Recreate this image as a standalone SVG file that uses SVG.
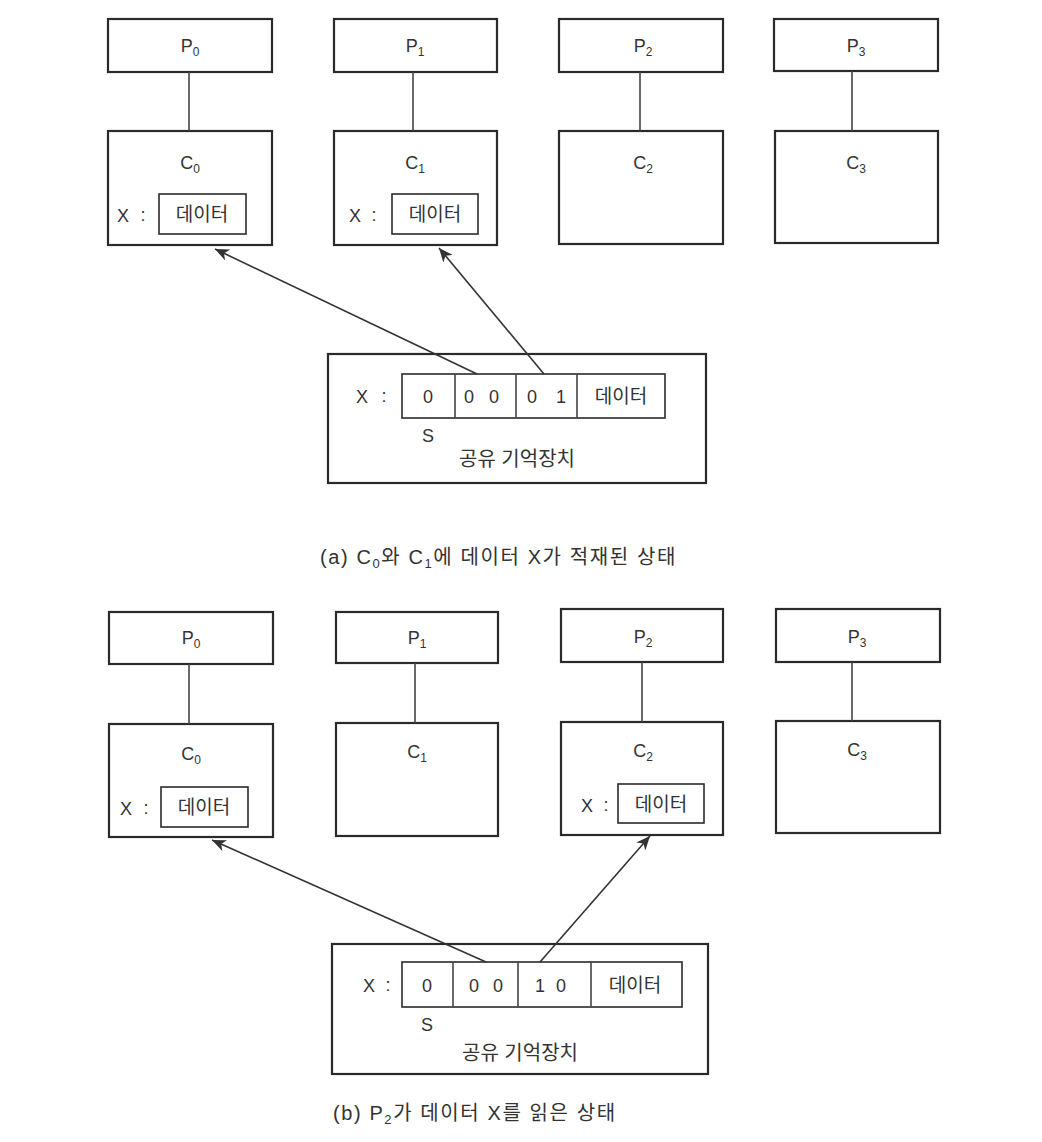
<svg xmlns="http://www.w3.org/2000/svg" width="1042" height="1142" viewBox="0 0 1042 1142">
<style>
.box{fill:#fff;stroke:#2a2a2a;stroke-width:2.2}
.ibox{fill:#fff;stroke:#2a2a2a;stroke-width:1.6}
.ln{stroke:#444;stroke-width:1.6;fill:none}
.arr{stroke:#333;stroke-width:1.6;fill:none;marker-end:url(#ah)}
text{font-family:"Liberation Sans","Noto Sans CJK KR",sans-serif;font-size:18px;fill:#333}
.m{text-anchor:middle}
.k{font-size:19px}
.sub{font-size:12px}
.cap{font-size:20px;letter-spacing:1.6px}
.cap .sub{font-size:13px}
</style>
<defs>
<marker id="ah" markerUnits="userSpaceOnUse" markerWidth="16" markerHeight="12" refX="14" refY="6" orient="auto">
<path d="M0,0 L14,6 L0,12 L4,6 Z" fill="#333"/>
</marker>
</defs>
<rect width="1042" height="1142" fill="#fff"/>

<!-- (a) -->
<g id="a-P0"><rect class="box" x="108" y="19" width="164" height="53"/><text class="m" x="190" y="52">P<tspan class="sub" dy="4">0</tspan></text></g>
<g id="a-P1"><rect class="box" x="334" y="19" width="163" height="53"/><text class="m" x="415" y="52">P<tspan class="sub" dy="4">1</tspan></text></g>
<g id="a-P2"><rect class="box" x="559" y="19" width="164" height="53"/><text class="m" x="643" y="52">P<tspan class="sub" dy="4">2</tspan></text></g>
<g id="a-P3"><rect class="box" x="774" y="19" width="164" height="52"/><text class="m" x="856" y="52">P<tspan class="sub" dy="4">3</tspan></text></g>

<g id="a-C0"><rect class="box" x="108" y="131" width="164" height="114"/><text class="m" x="190" y="169">C<tspan class="sub" dy="4">0</tspan></text>
<text class="m" x="123" y="222">X</text><text class="m" x="143" y="221">:</text>
<rect class="ibox" x="159" y="194" width="87" height="40"/><text class="m k" x="202" y="221">데이터</text></g>
<g id="a-C1"><rect class="box" x="334" y="131" width="163" height="114"/><text class="m" x="415" y="169">C<tspan class="sub" dy="4">1</tspan></text>
<text class="m" x="355" y="222">X</text><text class="m" x="374" y="221">:</text>
<rect class="ibox" x="392" y="194" width="86" height="40"/><text class="m k" x="435" y="221">데이터</text></g>
<g id="a-C2"><rect class="box" x="559" y="131" width="164" height="113"/><text class="m" x="643" y="169">C<tspan class="sub" dy="4">2</tspan></text></g>
<g id="a-C3"><rect class="box" x="775" y="131" width="163" height="112"/><text class="m" x="856" y="169">C<tspan class="sub" dy="4">3</tspan></text></g>

<g id="a-mem"><rect class="box" x="328" y="354" width="378" height="129"/>
<text class="m" x="362" y="403">X</text><text class="m" x="384" y="402">:</text>
<rect class="ibox" x="402" y="374" width="263" height="44"/>
<line class="ln" x1="455" y1="374" x2="455" y2="418"/>
<line class="ln" x1="516" y1="374" x2="516" y2="418"/>
<line class="ln" x1="577" y1="374" x2="577" y2="418"/>
<text class="m" x="428" y="403">0</text>
<text class="m" x="469" y="403">0</text><text class="m" x="494" y="403">0</text>
<text class="m" x="532" y="403">0</text><text class="m" x="561" y="403">1</text>
<text class="m k" x="621" y="403">데이터</text>
<text class="m" x="428" y="442">S</text>
<text class="m" x="517" y="466" style="font-size:20px">공유 기억장치</text></g>

<g id="a-caption"><text class="cap" x="320" y="564">(a) C<tspan class="sub" dy="4">0</tspan><tspan dy="-4">와 C</tspan><tspan class="sub" dy="4">1</tspan><tspan dy="-4">에 데이터 X가 적재된 상태</tspan></text></g>

<!-- (b) -->
<g id="b-P0"><rect class="box" x="109" y="612" width="164" height="52"/><text class="m" x="191" y="644">P<tspan class="sub" dy="4">0</tspan></text></g>
<g id="b-P1"><rect class="box" x="336" y="612" width="162" height="51"/><text class="m" x="417" y="644">P<tspan class="sub" dy="4">1</tspan></text></g>
<g id="b-P2"><rect class="box" x="561" y="609" width="162" height="53"/><text class="m" x="643" y="643">P<tspan class="sub" dy="4">2</tspan></text></g>
<g id="b-P3"><rect class="box" x="776" y="609" width="164" height="53"/><text class="m" x="857" y="643">P<tspan class="sub" dy="4">3</tspan></text></g>

<g id="b-C0"><rect class="box" x="109" y="724" width="164" height="113"/><text class="m" x="191" y="760">C<tspan class="sub" dy="4">0</tspan></text>
<text class="m" x="126" y="815">X</text><text class="m" x="146" y="814">:</text>
<rect class="ibox" x="161" y="787" width="87" height="40"/><text class="m k" x="204" y="814">데이터</text></g>
<g id="b-C1"><rect class="box" x="336" y="723" width="162" height="113"/><text class="m" x="417" y="758">C<tspan class="sub" dy="4">1</tspan></text></g>
<g id="b-C2"><rect class="box" x="561" y="722" width="162" height="113"/><text class="m" x="643" y="757">C<tspan class="sub" dy="4">2</tspan></text>
<text class="m" x="587" y="812">X</text><text class="m" x="606" y="811">:</text>
<rect class="ibox" x="618" y="784" width="86" height="39"/><text class="m k" x="661" y="811">데이터</text></g>
<g id="b-C3"><rect class="box" x="776" y="721" width="164" height="112"/><text class="m" x="857" y="756">C<tspan class="sub" dy="4">3</tspan></text></g>

<g id="b-mem"><rect class="box" x="332" y="944" width="376" height="130"/>
<text class="m" x="369" y="992">X</text><text class="m" x="388" y="991">:</text>
<rect class="ibox" x="402" y="962" width="280" height="45"/>
<line class="ln" x1="453" y1="962" x2="453" y2="1007"/>
<line class="ln" x1="518" y1="962" x2="518" y2="1007"/>
<line class="ln" x1="591" y1="962" x2="591" y2="1007"/>
<text class="m" x="427" y="992">0</text>
<text class="m" x="474" y="992">0</text><text class="m" x="498" y="992">0</text>
<text class="m" x="540" y="992">1</text><text class="m" x="561" y="992">0</text>
<text class="m k" x="635" y="992">데이터</text>
<text class="m" x="427" y="1031">S</text>
<text class="m" x="520" y="1060" style="font-size:20px">공유 기억장치</text></g>

<g id="b-caption"><text class="cap" x="333" y="1120">(b) P<tspan class="sub" dy="4">2</tspan><tspan dy="-4">가 데이터 X를 읽은 상태</tspan></text></g>

<!-- connectors -->
<g id="connectors">
<line class="ln" x1="189" y1="72" x2="189" y2="131"/>
<line class="ln" x1="413" y1="72" x2="413" y2="131"/>
<line class="ln" x1="640" y1="72" x2="640" y2="131"/>
<line class="ln" x1="852" y1="71" x2="852" y2="131"/>
<line class="arr" x1="477" y1="374" x2="215" y2="249"/>
<line class="arr" x1="544" y1="374" x2="439" y2="248"/>

<line class="ln" x1="189" y1="664" x2="189" y2="724"/>
<line class="ln" x1="415" y1="663" x2="415" y2="723"/>
<line class="ln" x1="642" y1="662" x2="642" y2="722"/>
<line class="ln" x1="852" y1="662" x2="852" y2="721"/>
<line class="arr" x1="486" y1="962" x2="212" y2="840"/>
<line class="arr" x1="540" y1="962" x2="650" y2="836"/>
</g>
</svg>
